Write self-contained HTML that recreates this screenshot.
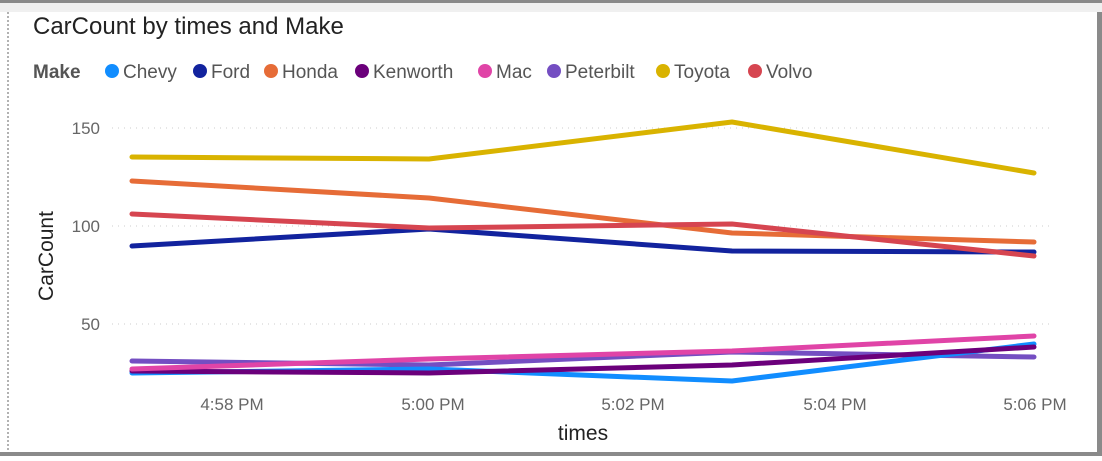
<!DOCTYPE html>
<html><head><meta charset="utf-8"><style>
body{margin:0;width:1102px;height:456px;overflow:hidden;background:#fff;font-family:"Liberation Sans",sans-serif}
</style></head><body>
<svg width="1102" height="456" xmlns="http://www.w3.org/2000/svg" font-family="Liberation Sans, sans-serif">
<rect x="0" y="0" width="1102" height="456" fill="#fff"/>
<rect x="0" y="0" width="1102" height="3" fill="#8a8a8a"/>
<rect x="0" y="3" width="1102" height="9" fill="#f0f0f0"/>
<rect x="1097" y="12" width="5" height="444" fill="#8a8a8a"/>
<rect x="0" y="452" width="1102" height="4" fill="#8a8a8a"/>
<line x1="8" y1="12" x2="8" y2="452" stroke="#666" stroke-dasharray="2,2"/>
<text x="33" y="34" font-size="24" fill="#222">CarCount by times and Make</text>
<g font-size="19" fill="#555">
<text x="33" y="78" font-weight="bold">Make</text>
<circle cx="112" cy="71" r="7" fill="#118DFF"/><text x="123" y="78">Chevy</text>
<circle cx="200" cy="71" r="7" fill="#12239E"/><text x="211" y="78">Ford</text>
<circle cx="271" cy="71" r="7" fill="#E66C37"/><text x="282" y="78">Honda</text>
<circle cx="362" cy="71" r="7" fill="#6B007B"/><text x="373" y="78">Kenworth</text>
<circle cx="485" cy="71" r="7" fill="#E044A7"/><text x="496" y="78">Mac</text>
<circle cx="554" cy="71" r="7" fill="#744EC2"/><text x="565" y="78">Peterbilt</text>
<circle cx="663" cy="71" r="7" fill="#D9B300"/><text x="674" y="78">Toyota</text>
<circle cx="755" cy="71" r="7" fill="#D64550"/><text x="766" y="78">Volvo</text>
</g>
<g stroke="#ccc" stroke-dasharray="1,5">
<line x1="112" y1="128" x2="1050" y2="128"/><line x1="112" y1="226" x2="1050" y2="226"/><line x1="112" y1="324" x2="1050" y2="324"/>
</g>
<g font-size="17" fill="#666" text-anchor="end">
<text x="100" y="134">150</text><text x="100" y="232">100</text><text x="100" y="330">50</text>
</g>
<g font-size="17" fill="#666" text-anchor="middle">
<text x="232" y="410">4:58 PM</text><text x="433" y="410">5:00 PM</text><text x="633" y="410">5:02 PM</text><text x="835" y="410">5:04 PM</text><text x="1035" y="410">5:06 PM</text>
</g>
<text x="583" y="440" font-size="21" fill="#222" text-anchor="middle">times</text>
<text transform="translate(53,256) rotate(-90)" font-size="21" fill="#222" text-anchor="middle">CarCount</text>
<g fill="none" stroke-width="5" stroke-linejoin="round" stroke-linecap="round">
<polyline stroke="#744EC2" points="132,361 429,365 732,352 1034,357"/>
<polyline stroke="#118DFF" points="132,373 429,369 732,381 1034,344"/>
<polyline stroke="#6B007B" points="132,371 429,373 732,365 1034,347"/>
<polyline stroke="#E044A7" points="132,369 429,359 732,351 1034,336"/>
<polyline stroke="#12239E" points="132,246 429,229 732,251 1034,252"/>
<polyline stroke="#E66C37" points="132,181 429,198 732,233 1034,242"/>
<polyline stroke="#D64550" points="132,214 429,228 732,224 1034,256"/>
<polyline stroke="#D9B300" points="132,157 429,159 732,122 1034,173"/>
</g>
</svg>
</body></html>
